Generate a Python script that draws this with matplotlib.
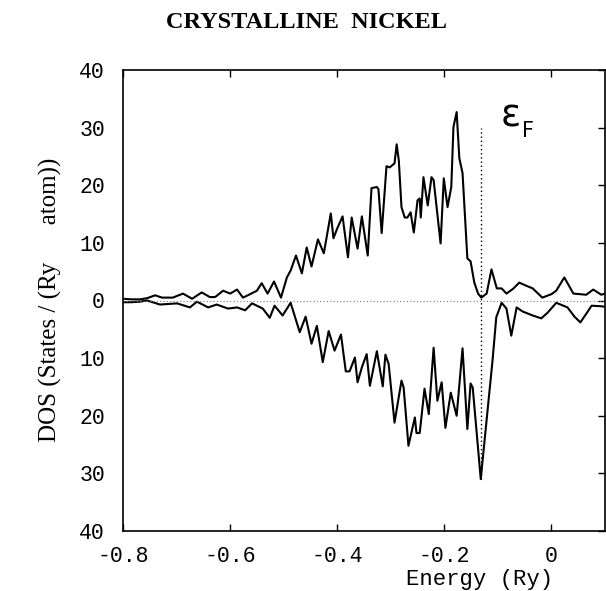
import matplotlib
matplotlib.use("Agg")
import matplotlib.pyplot as plt
from matplotlib.ticker import FixedLocator, FixedFormatter

# spin-up DOS (plotted above zero)
up_energy = [-0.800, -0.785, -0.768, -0.755, -0.740, -0.727, -0.707, -0.688, -0.671, -0.653,
             -0.638, -0.628, -0.613, -0.600, -0.587, -0.576, -0.567, -0.550, -0.541, -0.530,
             -0.518, -0.505, -0.494, -0.487, -0.477, -0.466, -0.457, -0.448, -0.436, -0.425,
             -0.412, -0.407, -0.400, -0.390, -0.380, -0.373, -0.362, -0.354, -0.343, -0.336,
             -0.326, -0.323, -0.317, -0.308, -0.302, -0.293, -0.289, -0.285, -0.280, -0.274,
             -0.269, -0.263, -0.257, -0.250, -0.246, -0.244, -0.239, -0.231, -0.224, -0.220,
             -0.207, -0.201, -0.194, -0.187, -0.183, -0.177, -0.172, -0.166, -0.157, -0.151,
             -0.144, -0.137, -0.131, -0.121, -0.112, -0.102, -0.093, -0.084, -0.072, -0.060,
             -0.048, -0.035, -0.017, 0.000, 0.009, 0.024, 0.041, 0.065, 0.078, 0.093, 0.100]
up_dos = [0.3, 0.2, 0.2, 0.4, 0.9, 0.5, 0.5, 1.2, 0.3, 1.4,
          0.6, 0.6, 1.7, 1.2, 1.9, 0.5, 0.9, 1.7, 3.0, 1.2,
          3.3, 0.5, 4.0, 5.2, 7.8, 4.7, 9.2, 5.9, 10.6, 8.2,
          15.1, 10.8, 12.5, 14.6, 7.5, 14.4, 9.0, 14.6, 7.8, 19.5,
          19.7, 19.3, 11.7, 23.3, 23.1, 23.8, 27.1, 24.3, 16.2, 14.4,
          14.4, 15.3, 11.8, 17.4, 17.7, 14.4, 21.4, 16.5, 21.4, 20.9,
          9.9, 21.2, 16.2, 19.7, 30.1, 32.7, 24.7, 22.1, 7.3, 6.8,
          3.1, 1.2, 0.5, 1.2, 5.4, 2.1, 2.1, 1.2, 2.0, 3.1,
          2.6, 2.1, 0.5, 1.1, 1.7, 4.0, 1.2, 1.0, 1.9, 1.0, 1.2]

# spin-down DOS (plotted below zero)
down_energy = [-0.800, -0.785, -0.768, -0.755, -0.731, -0.699, -0.675, -0.662, -0.641, -0.625,
               -0.604, -0.587, -0.572, -0.559, -0.539, -0.526, -0.517, -0.502, -0.487, -0.470,
               -0.459, -0.448, -0.438, -0.427, -0.416, -0.405, -0.393, -0.384, -0.377, -0.367,
               -0.362, -0.354, -0.345, -0.339, -0.326, -0.315, -0.310, -0.304, -0.293, -0.280,
               -0.276, -0.267, -0.255, -0.252, -0.246, -0.237, -0.229, -0.220, -0.213, -0.205,
               -0.198, -0.188, -0.177, -0.166, -0.157, -0.151, -0.147, -0.132, -0.119, -0.110,
               -0.103, -0.093, -0.084, -0.075, -0.065, -0.054, -0.035, -0.019, -0.007, 0.009,
               0.030, 0.043, 0.054, 0.065, 0.075, 0.093, 0.100]
down_dos = [-0.3, -0.3, -0.2, 0.0, -0.7, -0.5, -1.2, -0.2, -1.2, -0.7,
            -1.4, -1.2, -1.7, -0.5, -1.4, -3.0, -0.9, -2.6, -0.4, -5.5,
            -2.8, -7.5, -4.4, -10.7, -5.3, -8.7, -5.9, -12.3, -12.3, -9.9,
            -14.2, -11.6, -9.3, -14.8, -8.8, -14.9, -9.4, -11.0, -21.2, -13.9,
            -15.1, -25.2, -20.3, -23.0, -23.0, -15.3, -19.7, -8.2, -17.4, -14.2,
            -22.1, -16.0, -20.0, -8.3, -22.3, -14.4, -15.1, -31.0, -18.8, -10.4,
            -2.9, -0.4, -1.4, -6.1, -1.2, -1.9, -2.6, -3.1, -2.1, -0.4,
            -1.2, -2.8, -3.8, -2.3, -0.9, -1.0, -1.1]

fermi_energy = -0.132
fermi_range = [-31.0, 30.0]

y_ticks = [-40, -30, -20, -10, 0, 10, 20, 30, 40]
y_tick_labels = ["40", "30", "20", "10", "0", "10", "20", "30", "40"]
x_ticks = [-0.8, -0.6, -0.4, -0.2, 0.0]
x_tick_labels = ["-0.8", "-0.6", "-0.4", "-0.2", "0"]

fig = plt.figure(figsize=(6.06, 5.91), dpi=100)
ax = fig.add_axes([123 / 606, 60 / 591, 482 / 606, 461 / 591])

ax.plot(up_energy, up_dos, color="black", linewidth=1.5)
ax.plot(down_energy, down_dos, color="black", linewidth=1.5)
ax.axhline(0, color="#777777", linestyle=(0, (1, 2)), linewidth=0.8)
ax.plot([fermi_energy, fermi_energy], fermi_range, color="black",
        linestyle=(0, (1, 2)), linewidth=1.0)

ax.set_xlim(-0.8, 0.1)
ax.set_ylim(-40, 40)

ax.xaxis.set_major_locator(FixedLocator(x_ticks))
ax.xaxis.set_major_formatter(FixedFormatter(x_tick_labels))
ax.yaxis.set_major_locator(FixedLocator(y_ticks))
ax.yaxis.set_major_formatter(FixedFormatter(y_tick_labels))
ax.tick_params(direction="in", length=5, width=1.0, top=True, right=True,
               left=False, labelsize=15.5)
ax.tick_params(axis="x", pad=11)
ax.tick_params(axis="y", pad=13)
for lab in ax.get_xticklabels() + ax.get_yticklabels():
    lab.set_family("Liberation Mono")
for s in ax.spines.values():
    s.set_linewidth(1.2)

# Fermi level label: upright epsilon with a subscript F
ax.text(fermi_energy + 0.038, 30.2, "\u03b5", fontsize=27, family="DejaVu Sans",
        ha="left", va="baseline")
ax.text(fermi_energy + 0.077, 28.4, "F", fontsize=15, family="DejaVu Sans",
        ha="left", va="baseline")

fig.text(307 / 606, 1 - 22 / 591, "CRYSTALLINE  NICKEL", ha="center", va="center",
         fontsize=17.5, fontweight="bold", family="Liberation Serif")
fig.text(50 / 606, 1 - 300 / 591, "DOS (States / (Ry      atom))", rotation=90,
         ha="center", va="center", fontsize=18, family="Liberation Serif")
fig.text(553 / 606, 1 - 580 / 591, "Energy (Ry)", ha="right", va="center",
         fontsize=16, family="Liberation Mono")

fig.savefig("out.png", dpi=100)
